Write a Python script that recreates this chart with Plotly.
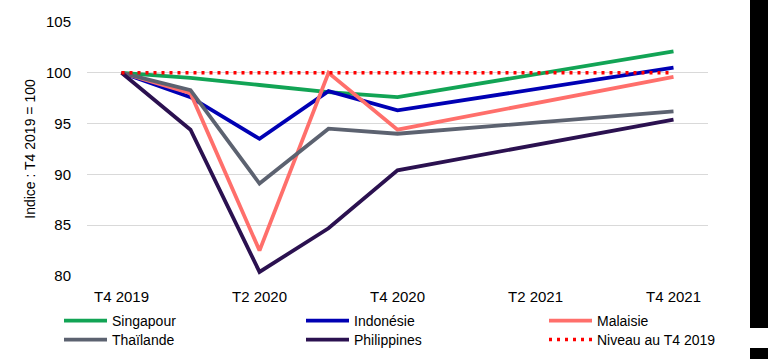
import plotly.graph_objects as go

quarters = ["T4 2019", "T1 2020", "T2 2020", "T3 2020", "T4 2020",
            "T1 2021", "T2 2021", "T3 2021", "T4 2021"]
tick_labels = ["T4 2019", "T2 2020", "T4 2020", "T2 2021", "T4 2021"]

singapour = [100, 99.5, 98.8, 98.1, 97.6, None, None, None, 102.1]
indonesie = [100, 97.6, 93.5, 98.2, 96.3, None, None, None, 100.5]
malaisie = [100, 98.0, 82.5, 100.0, 94.4, None, None, None, 99.6]
thailande = [100, 98.3, 89.1, 94.5, 94.0, None, None, None, 96.2]
philippines = [100, 94.4, 80.4, 84.7, 90.4, None, None, None, 95.4]
niveau = [100, 100, 100, 100, 100, 100, 100, 100, 100]

series = [
    ("Singapour", singapour, "#12A455", "legend"),
    ("Indonésie", indonesie, "#0000B4", "legend2"),
    ("Malaisie", malaisie, "#FF6F6B", "legend3"),
    ("Thaïlande", thailande, "#5C6270", "legend4"),
    ("Philippines", philippines, "#2B1150", "legend5"),
]

fig = go.Figure()
for name, vals, color, lg in series:
    fig.add_trace(go.Scatter(
        x=quarters, y=vals, name=name, mode="lines", connectgaps=True,
        line=dict(color=color, width=3.8), legend=lg,
    ))
fig.add_trace(go.Scatter(
    x=quarters, y=niveau, name="Niveau au T4 2019", mode="lines",
    line=dict(color="#FF0000", width=3.5, dash="3px,5px"), legend="legend6",
))

W, H = 768, 359
L, R, T, B = 87, 60, 22, 83
pw, ph = W - L - R, H - T - B

def px_x(x):
    return (x - L) / pw

def px_y(y):
    return (H - B - y) / ph

shapes = [
    dict(type="rect", xref="paper", yref="paper", x0=px_x(750), x1=px_x(780),
         y0=px_y(-10), y1=px_y(328), fillcolor="black", line_width=0),
    dict(type="rect", xref="paper", yref="paper", x0=px_x(750), x1=px_x(780),
         y0=px_y(348), y1=px_y(370), fillcolor="black", line_width=0),
]

def leg(xpx, ypx):
    return dict(
        orientation="v", x=px_x(xpx), y=px_y(ypx), xanchor="left", yanchor="top",
        font=dict(size=14), traceorder="normal", tracegroupgap=0, itemwidth=43,
        bgcolor="rgba(0,0,0,0)",
    )

row1, row2 = 305, 324
col1, col2, col3 = 59, 301, 544

fig.update_layout(
    width=W, height=H,
    margin=dict(l=L, r=R, t=T, b=B, autoexpand=False),
    paper_bgcolor="white", plot_bgcolor="white",
    font=dict(family="Liberation Sans, Arial, sans-serif", size=14, color="#000000"),
    showlegend=True,
    legend=leg(col1, row1), legend2=leg(col2, row1), legend3=leg(col3, row1),
    legend4=leg(col1, row2), legend5=leg(col2, row2), legend6=leg(col3, row2),
    shapes=shapes,
    xaxis=dict(
        type="category", categoryorder="array", categoryarray=quarters,
        range=[-0.5, 8.5],
        tickmode="array", tickvals=tick_labels, ticktext=tick_labels,
        showgrid=False, showline=False, zeroline=False, ticks="",
        ticklabelstandoff=10, tickfont=dict(size=15),
    ),
    yaxis=dict(
        range=[80, 105], tickvals=[80, 85, 90, 95, 100, 105],
        showgrid=True, gridcolor="#D9D9D9", gridwidth=1,
        showline=False, zeroline=False, ticks="",
        ticklabelstandoff=15, tickfont=dict(size=15),
        title=dict(text="Indice : T4 2019 = 100", font=dict(size=14), standoff=7),
    ),
)

fig.write_html(
    "out.html",
    config={"displayModeBar": False},
    post_script="document.body.style.margin='0';"
                "document.documentElement.style.overflow='hidden';"
                "document.body.style.overflow='hidden';",
)
